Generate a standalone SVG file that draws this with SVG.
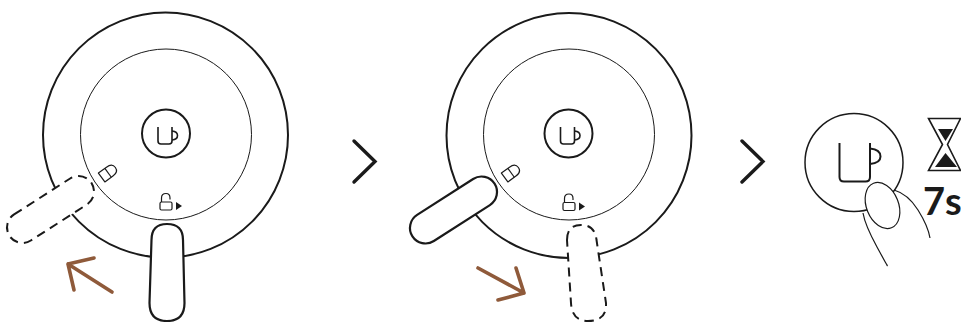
<svg xmlns="http://www.w3.org/2000/svg" width="961" height="322" viewBox="0 0 961 322">
<defs>
<style>
.o{fill:none;stroke:#1a1a1a;stroke-width:2}
.i{fill:none;stroke:#1a1a1a;stroke-width:1}
.b{fill:#fff;stroke:#1a1a1a;stroke-width:2.2}
.d{fill:#fff;stroke:#1a1a1a;stroke-width:2;stroke-dasharray:9 6}
.a{fill:none;stroke:#8f5a3a;stroke-width:3.600;stroke-linecap:round;stroke-linejoin:round}
.k{fill:none;stroke:#1a1a1a;stroke-width:1.600}
.c{fill:none;stroke:#1a1a1a;stroke-width:1.200}
.f{fill:#fff;stroke:#1a1a1a;stroke-width:1.200}
.v{fill:none;stroke:#1a1a1a;stroke-width:3.400;stroke-linecap:round;stroke-linejoin:miter}
</style>
<g id="cup"><path class="k" d="M-7 -8.500V5.500Q-7 8.500 -4 8.500H4Q7 8.500 7 5.500V-8.500"/><path class="k" d="M7 -4.500Q12.500 -4 12.500 0Q12.500 4 7 4.500"/></g>
<g id="unlock"><rect x="-8" y="-2" width="12" height="8" rx="1.500" fill="#fff" stroke="#1a1a1a" stroke-width="1.200"/><path class="c" d="M-6.500 -2V-6Q-6.500 -10.500 -2 -10.500Q2 -10.500 2 -6V-4.500"/><path d="M8 -2L14 2L8 6Z" fill="#1a1a1a"/></g>
<g id="lock"><path class="c" d="M-8.500 -5.500H1.500Q8.500 -5.500 8.500 0Q8.500 5.500 1.500 5.500H-8.500Z" stroke-linejoin="round"/><path class="c" d="M-0.500 -5.500V5.500"/></g>
</defs>
<g id="node-step1">
<circle class="o" cx="165.500" cy="135" r="122.500"/>
<circle class="i" cx="166" cy="134.500" r="85.500"/>
<circle class="o" cx="166" cy="133.500" r="24"/>
<use href="#cup" x="165" y="135.500"/>
<use href="#unlock" x="168" y="204"/>
<use href="#lock" transform="translate(108.500 172.500) rotate(-36)"/>
<rect class="d" x="1.700" y="194" width="97.600" height="31" rx="15.500" transform="rotate(-32.700 50.500 209.500)"/>
<path class="b" d="M151.500 240Q151.500 224 167 224Q183 224 183 240L184.500 303Q184.500 321 167 321Q149.500 321 149.500 303Z"/>
<path class="a" d="M112 292L68 264M68 264L94 258M68 264L74 290"/>
</g>
<g id="node-step2">
<circle class="o" cx="569" cy="135.500" r="122.500"/>
<circle class="i" cx="569" cy="134.500" r="85.500"/>
<circle class="o" cx="568.500" cy="133.500" r="24"/>
<use href="#cup" x="567.500" y="135.500"/>
<use href="#unlock" x="571" y="204.500"/>
<use href="#lock" transform="translate(511.500 172.500) rotate(-36)"/>
<rect class="b" x="404.700" y="194.500" width="97.600" height="31" rx="15.500" transform="rotate(-32.700 453.500 210)"/>
<path class="d" d="M567 240Q567 225 581 225Q595 225 596.500 240L606 303Q607 321 588 321Q572 321 571 303Z"/>
<path class="a" d="M478 268L524 293M524 293L498 300M524 293L516 268"/>
</g>
<g id="node-step3">
<circle class="o" style="stroke-width:1.500" cx="854" cy="162.500" r="49"/>
<path style="fill:none;stroke:#1a1a1a;stroke-width:2" d="M839.500 143V177Q839.500 181.500 844 181.500H865.500Q870 181.500 870 177V143"/>
<path style="fill:none;stroke:#1a1a1a;stroke-width:2" d="M870 148.500Q880.500 149.500 880.500 156.500Q880.500 163 870 164"/>
<path class="c" d="M894 190Q908 194 918 210T930 238"/>
<path class="c" d="M863 213Q865 225 877 247T887 265"/>
<ellipse class="f" cx="882.500" cy="205.500" rx="16" ry="24" transform="rotate(-22 882.500 205.500)"/>
<path d="M928.500 118.500H960.500L947.500 144.500L960.500 170.500H928.500L942.500 144.500Z" fill="#fff" stroke="#1a1a1a" stroke-width="1.600"/>
<path d="M938 129H953L945.500 141Z" fill="#1a1a1a"/>
<path d="M935 167L945.500 153L957 167Z" fill="#1a1a1a"/>
<text x="923" y="214.500" font-family="Lato,'Liberation Sans',sans-serif" font-size="38" font-weight="700" fill="#1a1a1a">7s</text>
</g>
<g id="connectors">
<path class="v" d="M354 141L375 161.500L354 182"/>
<path class="v" d="M742 141L763 161.500L742 182"/>
</g>
</svg>
